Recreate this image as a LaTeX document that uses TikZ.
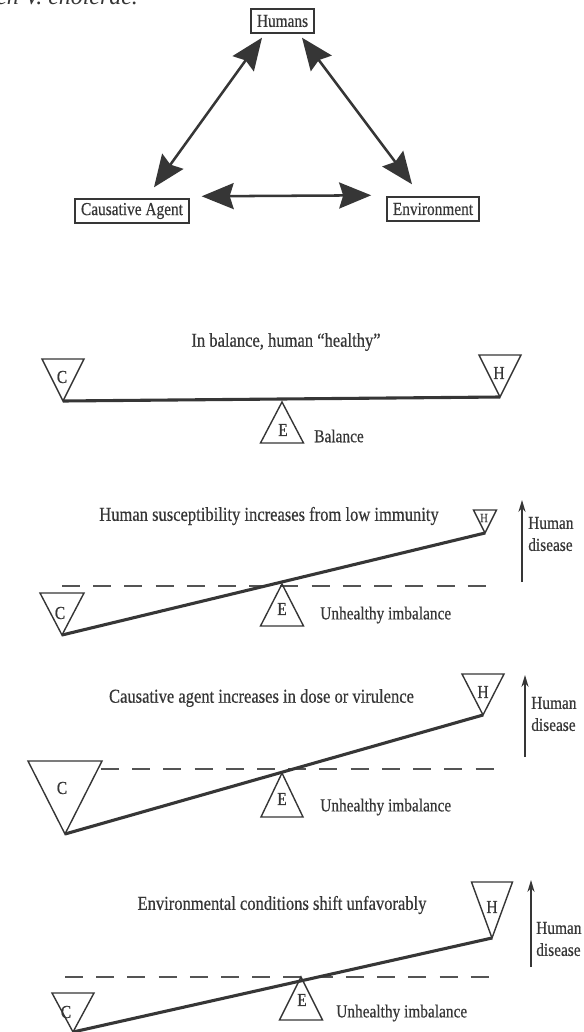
\documentclass[tikz,border=0pt]{standalone}
\usepackage{fontspec}
\setmainfont{Liberation Serif}
\newfontfamily\figfont{Liberation Serif}[FakeStretch=0.84, FakeBold=0.5]
\usetikzlibrary{arrows.meta,positioning,calc}
\definecolor{ink}{HTML}{363636}

\begin{document}
\begin{tikzpicture}[x=0.025cm, y=-0.025cm,
  box/.style={draw=ink, line width=1pt, inner xsep=0.15cm, inner ysep=0pt,
              minimum height=0.6cm, text=ink, font=\figfont\fontsize{13}{15}\selectfont},
  dbl/.style={{Stealth[length=0.8cm, width=0.65cm, inset=0.1cm]}-{Stealth[length=0.8cm, width=0.65cm, inset=0.1cm]},
              line width=1.8pt, draw=ink},
  beam/.style={line width=2.2pt, draw=ink},
  weight/.style={line width=1pt, draw=ink, line join=miter},
  level/.style={line width=1.4pt, draw=ink!85, dash pattern=on 0.45cm off 0.33cm},
  rise/.style={-{Stealth[length=0.3cm, width=0.18cm]}, line width=0.9pt, draw=ink},
  caption/.style={text=ink, inner sep=0pt, font=\figfont\fontsize{14}{16}\selectfont},
  note/.style={text=ink, inner sep=0pt, anchor=west, align=left,
               font=\figfont\fontsize{13}{15.6}\selectfont},
  letter/.style={text=ink, inner sep=0pt, font=\figfont\fontsize{13}{15}\selectfont},
]
  \useasboundingbox (0,0) rectangle (584,1032);

  \node[anchor=base west, inner sep=0pt, text=ink, font=\itshape\fontsize{17}{20}\selectfont] (frag) at (-4,5) {en V. cholerae.};

  % triad
  \node[box] (hum) at (282.5,21) {Humans};
  \node[box] (agent) at (132,211) {Causative Agent};
  \node[box] (env) at (433,209) {Environment};

  \draw[dbl] ($(agent.north)+(22,-11)$) -- ($(hum.south)+(-20.5,4)$);
  \draw[dbl] ($(hum.south)+(19.5,4)$) -- ($(env.north)+(-21,-12)$);
  \draw[dbl] ($(agent.north east)+(12,-2)$) -- ($(env.north west)+(-15,-1)$);

  % balance
  \coordinate (c1) at (63,401);
  \coordinate (h1) at (500,397);
  \coordinate (e1) at (282,402);
  \node[caption] (cap1) at (286,342) {In balance, human “healthy”};
  \draw[weight] (c1) -- ++(-21,-42) -- ++(42,0) -- cycle;
  \draw[weight] (h1) -- ++(-21,-42) -- ++(42,0) -- cycle;
  \draw[weight] (e1) -- ++(-21.5,41) -- ++(43,0) -- cycle;
  \draw[beam] (c1) -- (h1);
  \node[letter] (c1l) at (62,377) {C};
  \node[letter] (h1l) at (499,373) {H};
  \node[letter] (e1l) at (283,430) {E};
  \node[note] (bal1) at (314,436) {Balance};

  % human susceptibility
  \coordinate (c2) at (62,635);
  \coordinate (h2) at (485,533);
  \coordinate (e2) at (282,584);
  \coordinate (d2a) at (522,582);
  \coordinate (d2b) at (522,500);
  \node[caption] (cap2) at (269,516) {Human susceptibility increases from low immunity};
  \draw[level] (62,586) -- (494,586);
  \draw[weight] (c2) -- ++(-22,-42) -- ++(44,0) -- cycle;
  \draw[weight] (h2) -- ++(-11.5,-23) -- ++(23,0) -- cycle;
  \draw[weight] (e2) -- ++(-21.5,42) -- ++(43,0) -- cycle;
  \draw[beam] (c2) -- (h2);
  \node[letter] (c2l) at (60,613) {C};
  \node[letter, font=\figfont\fontsize{9}{10}\selectfont] (h2l) at (484,518) {H};
  \node[letter] (e2l) at (282,609) {E};
  \node[note] (bal2) at (320,615) {Unhealthy imbalance};
  \draw[rise] (d2a) -- (d2b);
  \node[note] (dis2) at (528,534) {Human\\disease};

  % causative agent
  \coordinate (c3) at (65,834);
  \coordinate (h3) at (483,715);
  \coordinate (e3) at (282,773);
  \coordinate (d3a) at (525,757);
  \coordinate (d3b) at (525,675);
  \node[caption] (cap3) at (261.5,698) {Causative agent increases in dose or virulence};
  \draw[level] (101,769) -- (494,769);
  \draw[weight] (c3) -- ++(-37,-73) -- ++(74,0) -- cycle;
  \draw[weight] (h3) -- ++(-21,-41) -- ++(42,0) -- cycle;
  \draw[weight] (e3) -- ++(-21,44) -- ++(42,0) -- cycle;
  \draw[beam] (c3) -- (h3);
  \node[letter] (c3l) at (62,788) {C};
  \node[letter] (h3l) at (483,692) {H};
  \node[letter] (e3l) at (282,799) {E};
  \node[note] (bal3) at (320,807) {Unhealthy imbalance};
  \draw[rise] (d3a) -- (d3b);
  \node[note] (dis3) at (531,714) {Human\\disease};

  % environment
  \coordinate (c4) at (73,1032);
  \coordinate (h4) at (492,938);
  \coordinate (e4) at (301,977);
  \coordinate (d4a) at (531,967);
  \coordinate (d4b) at (531,880);
  \node[caption] (cap4) at (282,905) {Environmental conditions shift unfavorably};
  \draw[level] (65,977) -- (496,977);
  \draw[weight] (c4) -- ++(-21,-39) -- ++(42,0) -- cycle;
  \draw[weight] (h4) -- ++(-20.5,-56) -- ++(41,0) -- cycle;
  \draw[weight] (e4) -- ++(-21.5,43) -- ++(43,0) -- cycle;
  \draw[beam] (c4) -- (h4);
  \node[letter] (c4l) at (66,1012) {C};
  \node[letter] (h4l) at (492,907) {H};
  \node[letter] (e4l) at (302,1000) {E};
  \node[note] (bal4) at (336,1013) {Unhealthy imbalance};
  \draw[rise] (d4a) -- (d4b);
  \node[note] (dis4) at (536,939) {Human\\disease};
\end{tikzpicture}
\end{document}
